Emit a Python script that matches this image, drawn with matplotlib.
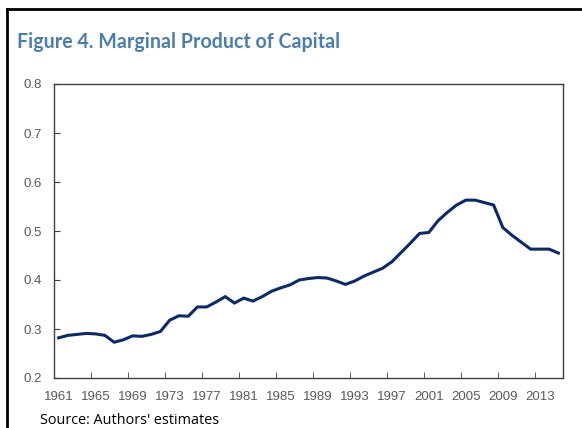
import numpy as np
import matplotlib.pyplot as plt
from matplotlib.lines import Line2D

# marginal product of capital
years = list(range(1961, 2016))
mpk = [0.282, 0.287, 0.289, 0.291, 0.290, 0.287, 0.273, 0.278, 0.286, 0.285,
       0.289, 0.295, 0.318, 0.327, 0.326, 0.345, 0.345, 0.355, 0.366, 0.353,
       0.363, 0.357, 0.366, 0.377, 0.384, 0.390, 0.400, 0.403, 0.405, 0.404,
       0.398, 0.391, 0.398, 0.408, 0.416, 0.424, 0.437, 0.456, 0.475, 0.495,
       0.497, 0.521, 0.538, 0.553, 0.563, 0.563, 0.558, 0.553, 0.507, 0.491,
       0.477, 0.463, 0.463, 0.463, 0.455]
xlabels = [str(y) for y in range(1961, 2014, 4)]
yticks = [0.2, 0.3, 0.4, 0.5, 0.6, 0.7, 0.8]

W, H = 582, 428
fig = plt.figure(figsize=(W / 100, H / 100), dpi=100)
ax = fig.add_axes([54 / W, 1 - 378 / H, (563 - 54) / W, (378 - 84) / H])

ax.plot(years, mpk, color='#0b2a6b', linewidth=2.2, solid_joinstyle='miter')

ax.set_xlim(1960.5, 2015.5)
ax.set_ylim(0.2, 0.8)

tickfont = {'family': 'Liberation Sans', 'size': 9.5}
ax.set_xticks(range(1961, 2014, 4))
ax.set_xticklabels(xlabels, fontdict=tickfont, color='#595959')
ax.set_xticks(np.arange(1960.5, 2013, 4), minor=True)
ax.tick_params(axis='x', which='major', length=0, pad=9)
ax.tick_params(axis='x', which='minor', length=4, direction='in', color='#404040')

ax.set_yticks(yticks)
ax.set_yticklabels(['%.1f' % v for v in yticks], fontdict=tickfont, color='#595959')
ax.tick_params(axis='y', length=4, direction='in', pad=9, color='#404040')

for s in ax.spines.values():
    s.set_color('#404040')
    s.set_linewidth(1)

# frame around the figure (left and top only)
fig.add_artist(Line2D([7 / W, 7 / W], [0, 1 - 9 / H], transform=fig.transFigure, color='black', linewidth=2))
fig.add_artist(Line2D([7 / W, 1], [1 - 9 / H, 1 - 9 / H], transform=fig.transFigure, color='black', linewidth=2))

fig.text(17 / W, 1 - 48 / H, 'Figure 4. Marginal Product of Capital', fontsize=14.1,
         fontweight='bold', family='Lato', color='#4a7eb0', va='baseline')
fig.text(40 / W, 1 - 413 / H, "Source: Authors' estimates", fontsize=10.4,
         family='Open Sans', color='black', va='top')

fig.savefig('out.png', dpi=100)
